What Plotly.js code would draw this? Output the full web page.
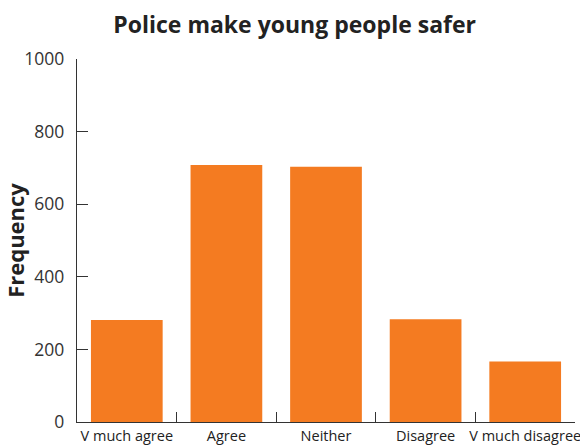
<!DOCTYPE html>
<html><head><meta charset="utf-8">
<script src="https://cdn.plot.ly/plotly-3.0.1.min.js"></script>
<style>html,body{margin:0;padding:0;background:#fff}#c{width:580px;height:445px}</style>
</head><body><div id="c"></div>
<script>
const categories = ["V much agree", "Agree", "Neither", "Disagree", "V much disagree"];
const frequency = [281, 708, 703, 283, 167];
const yTicks = [0, 200, 400, 600, 800, 1000];

const trace = {
  type: "bar",
  x: categories,
  y: frequency,
  marker: {color: "#F47B21"},
  hoverinfo: "x+y"
};
const font = "'Open Sans', 'Noto Sans', sans-serif";
const layout = {
  width: 580, height: 445,
  margin: {l: 77, r: 5, t: 59, b: 23},
  paper_bgcolor: "#fff", plot_bgcolor: "#fff",
  bargap: 0.28,
  font: {family: font, color: "#222", size: 14},
  title: {text: "<b>Police make young people safer</b>", x: 0.508, xanchor: "center", y: 0.945, yanchor: "middle",
          font: {family: font, size: 23, color: "#222"}},
  xaxis: {
    type: "category", range: [-0.5, 4.5],
    showline: true, linecolor: "#333", linewidth: 1.3,
    ticks: "inside", tickson: "boundaries", ticklen: 10, tickcolor: "#333", tickwidth: 1.3,
    tickangle: 0,
    showgrid: false, zeroline: false, fixedrange: true,
    tickfont: {family: font, size: 14.5, color: "#222"}
  },
  yaxis: {
    range: [0, 1000], tickvals: yTicks, ticktext: yTicks.map(String),
    showline: true, linecolor: "#333", linewidth: 1.3,
    ticks: "inside", ticklen: 11, tickcolor: "#333", tickwidth: 1.3,
    ticklabelstandoff: 8,
    showgrid: false, zeroline: false, fixedrange: true,
    tickfont: {family: font, size: 17.5, color: "#333"},
    title: {text: "<b>Frequency</b>", standoff: 4, font: {family: font, size: 22, color: "#222"}}
  },
  showlegend: false
};
Plotly.newPlot("c", [trace], layout, {displayModeBar: false, staticPlot: true});
</script></body></html>
